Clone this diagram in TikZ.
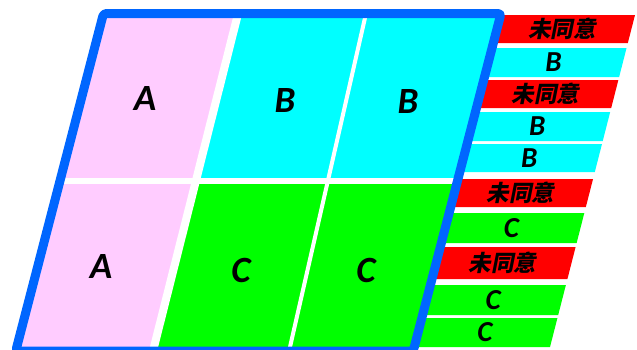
\documentclass[tikz,border=0pt]{standalone}
\usepackage{fontspec}
\setmainfont{Carlito}
\newfontfamily\cjkfont[FakeSlant=0.2]{Noto Sans CJK SC}
\definecolor{cellpink}{RGB}{255,204,255}
\definecolor{cellcyan}{RGB}{0,255,255}
\definecolor{cellgreen}{RGB}{0,255,0}
\definecolor{stripred}{RGB}{255,0,0}
\definecolor{frameblue}{RGB}{0,102,255}
\tikzset{
  cellletter/.style={font=\fontsize{37}{40}\selectfont\bfseries\itshape, text=black, inner sep=0pt},
  stripletter/.style={font=\fontsize{29}{31}\selectfont\bfseries\itshape, text=black, inner sep=0pt},
  stripcjk/.style={font=\fontsize{22.5}{24}\selectfont\cjkfont\bfseries, text=black, inner sep=0pt},
  whitegap/.style={draw=white, line cap=butt},
  outerframe/.style={draw=frameblue, line width=9pt, line join=round, rounded corners=3pt}
}
\begin{document}
\begin{tikzpicture}[x=1pt,y=-1pt]
\useasboundingbox (0,0) rectangle (637,349);

% corners of the slanted frame (centre line of the border)
\coordinate (TL) at (103.5,13.5);
\coordinate (TR) at (501,13.5);
\coordinate (BR) at (413.25,351);
\coordinate (BL) at (15.75,351);
% column divider between A and the rest
\coordinate (g1t) at (238.1,13.5);
\coordinate (g1m) at (195.8,181);
\coordinate (g1b) at (153,351);
% second column divider
\coordinate (g2t) at (366,13.5);
\coordinate (g2b) at (289.1,351);
% row divider ends
\coordinate (rl) at (59.95,181);
\coordinate (rr) at (457.45,181);

% side strips, drawn first so the frame covers their left ends
\foreach \t/\b/\col/\sty/\lab [count=\i] in {
  15/43/stripred/stripcjk/未同意,
  48/77/cellcyan/stripletter/B,
  80/108/stripred/stripcjk/未同意,
  112/141/cellcyan/stripletter/B,
  144/172/cellcyan/stripletter/B,
  179/207/stripred/stripcjk/未同意,
  213/243/cellgreen/stripletter/C,
  247/279/stripred/stripcjk/未同意,
  285/315/cellgreen/stripletter/C,
  318/347/cellgreen/stripletter/C}{
  \pgfmathsetmacro\xlt{501-0.26*(\t-13.5)}
  \pgfmathsetmacro\xlb{501-0.26*(\b-13.5)}
  \pgfmathsetmacro\xrt{635-0.256*(\t-15)}
  \pgfmathsetmacro\xrb{635-0.256*(\b-15)}
  \pgfmathsetmacro\ym{(\t+\b)/2}
  \pgfmathsetmacro\xm{562-0.254*(\ym-29)}
  \fill[\col] (\xlt,\t) -- (\xrt,\t) -- (\xrb,\b) -- (\xlb,\b) -- cycle;
  \node[\sty] (strip\i) at (\xm,\ym) {\lab};
}

% cell fills
\fill[cellpink] (TL) -- (g1t) -- (g1b) -- (BL) -- cycle;
\fill[cellcyan] (g1t) -- (TR) -- (rr) -- (g1m) -- cycle;
\fill[cellgreen] (g1m) -- (rr) -- (BR) -- (g1b) -- cycle;

% white separators
\draw[whitegap, line width=8pt] (g1t) -- (g1b);
\draw[whitegap, line width=6pt] (rl) -- (rr);
\draw[whitegap, line width=4pt] (g2t) -- (g2b);

% frame
\draw[outerframe] (TL) -- (TR) -- (BR) -- (BL) -- cycle;

% cell labels
\node[cellletter] (a1) at (145,98) {A};
\node[cellletter] (b1) at (285,100) {B};
\node[cellletter] (b2) at (408,101) {B};
\node[cellletter] (a2) at (101,266) {A};
\node[cellletter] (c1) at (241,270) {C};
\node[cellletter] (c2) at (366,270) {C};
\end{tikzpicture}
\end{document}
